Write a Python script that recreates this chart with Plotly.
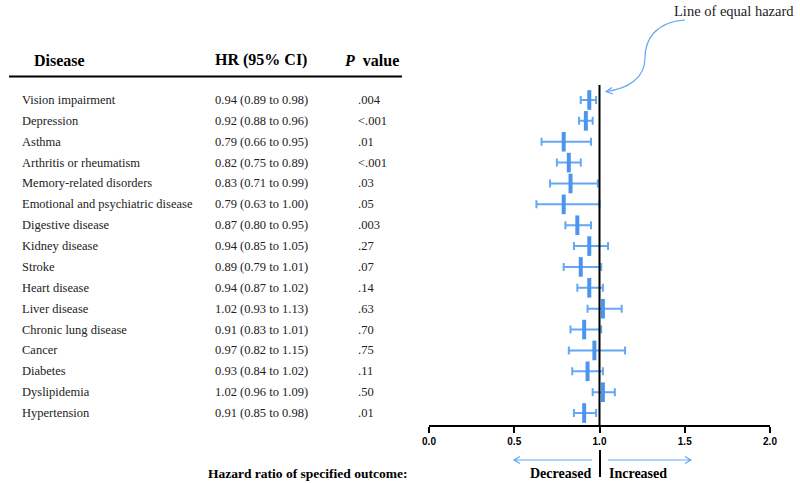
import plotly.graph_objects as go

diseases = ["Vision impairment", "Depression", "Asthma", "Arthritis or rheumatism",
            "Memory-related disorders", "Emotional and psychiatric disease", "Digestive disease",
            "Kidney disease", "Stroke", "Heart disease", "Liver disease", "Chronic lung disease",
            "Cancer", "Diabetes", "Dyslipidemia", "Hypertension"]
hr = [0.94, 0.92, 0.79, 0.82, 0.83, 0.79, 0.87, 0.94, 0.89, 0.94, 1.02, 0.91, 0.97, 0.93, 1.02, 0.91]
ci_low = [0.89, 0.88, 0.66, 0.75, 0.71, 0.63, 0.80, 0.85, 0.79, 0.87, 0.93, 0.83, 0.82, 0.84, 0.96, 0.85]
ci_high = [0.98, 0.96, 0.95, 0.89, 0.99, 1.00, 0.95, 1.05, 1.01, 1.02, 1.13, 1.01, 1.15, 1.02, 1.09, 0.98]
p_values = [".004", "<.001", ".01", "<.001", ".03", ".05", ".003", ".27", ".07", ".14", ".63",
            ".70", ".75", ".11", ".50", ".01"]
x_ticks = [0.0, 0.5, 1.0, 1.5, 2.0]
x_tick_labels = ["0.0", "0.5", "1.0", "1.5", "2.0"]

W, H = 800, 483
def px(x):
    return x / W
def py(y):
    return 1 - y / H

BLUE_BAR = "#4D94EE"
BLUE_WH = "#64A7F5"
SERIF = "Liberation Serif, Times New Roman, serif"
SANS = "Liberation Sans, Arial, sans-serif"
BODY = dict(family=SERIF, size=12.5, color="#222")

rows = list(range(len(diseases)))
row0, step = 100.0, 20.87
y_bottom_px, y_top_px = 425.0, 85.0
y_range = [(y_bottom_px - row0) / step, (y_top_px - row0) / step]

fig = go.Figure()
fig.add_trace(go.Scatter(
    x=hr, y=rows, mode="markers",
    marker=dict(symbol="line-ns", size=14, color=BLUE_BAR,
                line=dict(color=BLUE_BAR, width=4)),
    error_x=dict(type="data", symmetric=False,
                 array=[h - c for c, h in zip(hr, ci_high)],
                 arrayminus=[c - l for c, l in zip(hr, ci_low)],
                 color=BLUE_WH, thickness=2, width=4),
    showlegend=False, hoverinfo="skip",
))

annotations = []
for i, (d, h, lo, hi, p) in enumerate(zip(diseases, hr, ci_low, ci_high, p_values)):
    annotations.append(dict(x=px(20), y=i, xref="paper", yref="y", text=d, showarrow=False,
                            xanchor="left", yanchor="middle", font=BODY))
    annotations.append(dict(x=px(213), y=i, xref="paper", yref="y",
                            text=f"{h:.2f} ({lo:.2f} to {hi:.2f})", showarrow=False,
                            xanchor="left", yanchor="middle", font=BODY))
    annotations.append(dict(x=px(356), y=i, xref="paper", yref="y", text=p, showarrow=False,
                            xanchor="left", yanchor="middle", font=BODY))

hdr_font = dict(family=SERIF, size=16, color="black")
annotations += [
    dict(x=px(32), y=py(60), xref="paper", yref="paper", text="<b>Disease</b>", showarrow=False,
         xanchor="left", yanchor="middle", font=hdr_font),
    dict(x=px(213), y=py(60), xref="paper", yref="paper", text="<b>HR (95% CI)</b>", showarrow=False,
         xanchor="left", yanchor="middle", font=hdr_font),
    dict(x=px(342), y=py(60), xref="paper", yref="paper", text="<b><i>P</i>  value</b>", showarrow=False,
         xanchor="left", yanchor="middle", font=hdr_font),
    dict(x=px(672), y=py(11), xref="paper", yref="paper", text="Line of equal hazard", showarrow=False,
         xanchor="left", yanchor="middle", font=dict(family=SERIF, size=14.5, color="#222")),
    dict(x=px(409), y=py(473), xref="paper", yref="paper", text="<b>Hazard ratio of specified outcome:</b>",
         showarrow=False, xanchor="right", yanchor="middle", font=dict(family=SERIF, size=13.5, color="black")),
    dict(x=px(593), y=py(473), xref="paper", yref="paper", text="<b>Decreased</b>",
         showarrow=False, xanchor="right", yanchor="middle", font=dict(family=SERIF, size=14, color="black")),
    dict(x=px(607), y=py(473), xref="paper", yref="paper", text="<b>Increased</b>",
         showarrow=False, xanchor="left", yanchor="middle", font=dict(family=SERIF, size=14, color="black")),
]

def pt(x, y):
    return f"{px(x):.5f},{py(y):.5f}"

thin_blue = dict(color=BLUE_WH, width=1.2)
shapes = [
    dict(type="line", xref="x", yref="y domain", x0=1, x1=1, y0=0, y1=1,
         line=dict(color="black", width=2)),
    dict(type="line", xref="paper", yref="paper", x0=px(9), x1=px(402), y0=py(76.5), y1=py(76.5),
         line=dict(color="black", width=2)),
    dict(type="line", xref="paper", yref="paper", x0=px(600), x1=px(600), y0=py(450), y1=py(477),
         line=dict(color="black", width=2)),
    dict(type="path", xref="paper", yref="paper",
         path=f"M {pt(685, 20)} C {pt(655, 22)} {pt(645, 40)} {pt(645, 58)} C {pt(645, 78)} {pt(628, 89)} {pt(606, 91.5)}",
         line=thin_blue),
    dict(type="path", xref="paper", yref="paper",
         path=f"M {pt(612, 87.5)} L {pt(606, 91.5)} L {pt(613, 94)}", line=thin_blue),
    dict(type="path", xref="paper", yref="paper",
         path=f"M {pt(592, 460)} L {pt(514, 460)} M {pt(520, 456.5)} L {pt(514, 460)} L {pt(520, 463.5)}",
         line=thin_blue),
    dict(type="path", xref="paper", yref="paper",
         path=f"M {pt(608, 460)} L {pt(691, 460)} M {pt(685, 456.5)} L {pt(691, 460)} L {pt(685, 463.5)}",
         line=thin_blue),
]

fig.update_layout(
    width=W, height=H, margin=dict(l=0, r=0, t=0, b=0, autoexpand=False),
    paper_bgcolor="white", plot_bgcolor="white",
    annotations=annotations, shapes=shapes,
    xaxis=dict(domain=[px(429), px(770)], range=[0, 2], tickmode="array", tickvals=x_ticks,
               ticktext=[f"<b>{t}</b>" for t in x_tick_labels], showline=True, linecolor="black", linewidth=2,
               ticks="outside", ticklen=6, tickwidth=2, tickcolor="black", showgrid=False, zeroline=False,
               tickfont=dict(family=SANS, size=10, color="black"), fixedrange=True, automargin=False),
    yaxis=dict(domain=[py(y_bottom_px), py(y_top_px)], range=y_range, visible=False, showgrid=False,
               zeroline=False, fixedrange=True, automargin=False),
)

fig.write_html("out.html", config={"responsive": False, "displayModeBar": False},
               post_script="document.body.style.margin='0';document.body.style.overflow='hidden';")
